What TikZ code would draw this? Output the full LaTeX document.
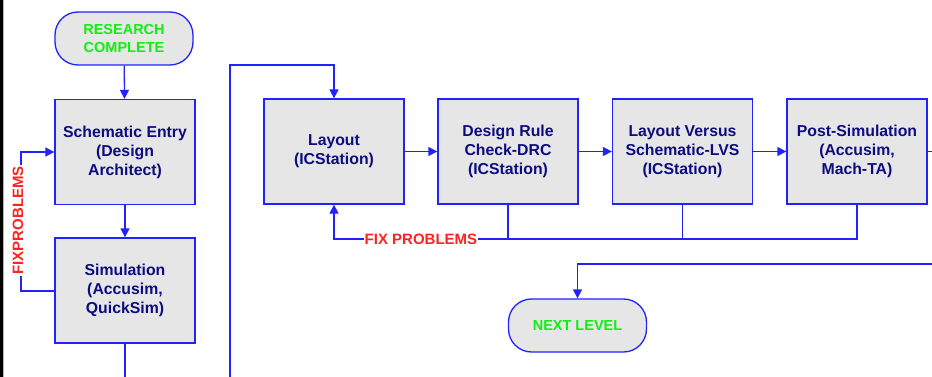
\documentclass[tikz,border=0pt]{standalone}
\usepackage{fontspec}
\setmainfont{Liberation Sans}
\usetikzlibrary{arrows.meta}

\definecolor{flowblue}{HTML}{2222FF}
\definecolor{flownavy}{HTML}{0C0C80}
\definecolor{flowgreen}{HTML}{11EE11}
\definecolor{flowred}{HTML}{FF2222}
\definecolor{flowfill}{HTML}{E6E6E6}

\tikzset{
  stagebox/.style={
    draw=flowblue, line width=1.3pt, fill=flowfill,
    minimum width=140pt, minimum height=105pt,
    align=center, text=flownavy,
    font=\bfseries\fontsize{15.8}{19}\selectfont
  },
  terminal/.style={
    draw=flowblue, line width=1.3pt, fill=flowfill,
    rounded corners=23pt,
    minimum width=138pt, minimum height=53pt,
    align=center, text=flowgreen,
    font=\bfseries\fontsize{14.5}{18}\selectfont
  },
  flow/.style={draw=flowblue, line width=1.3pt},
  flowarrow/.style={flow, -{Triangle[length=9pt,width=9pt]}},
  fixlabel/.style={fill=white, text=flowred, inner sep=1pt,
    font=\bfseries\fontsize{15}{18}\selectfont}
}

\begin{document}
\begin{tikzpicture}[x=1pt,y=-1pt]
\useasboundingbox (0,0) rectangle (932,377);
% page edge
\draw[line width=3pt] (1.5,0) -- (1.5,377);
\draw[line width=1pt, black!30] (3.8,0) -- (3.8,377);

% left column
\node[terminal] (research) at (124,38.5) {RESEARCH\\COMPLETE};
\node[stagebox] (schem) at (125,152) {Schematic Entry\\(Design\\Architect)};
\node[stagebox] (sim) at (125,290.5) {Simulation\\(Accusim,\\QuickSim)};

% top row
\node[stagebox] (layout) at (334,151.5) {Layout\\(ICStation)};
\node[stagebox] (drc) at (508,151.5) {Design Rule\\Check-DRC\\(ICStation)};
\node[stagebox] (lvs) at (682.5,151.5) {Layout Versus\\Schematic-LVS\\(ICStation)};
\node[stagebox] (post) at (857,151.5) {Post-Simulation\\(Accusim,\\Mach-TA)};

\node[terminal] (next) at (577.5,325.5) {NEXT LEVEL};

% free ends
\coordinate (simout) at (125,377);
\coordinate (layin) at (230,377);
\coordinate (postout) at (932,151.5);
\coordinate (nextin) at (932,264);

% main flow
\draw[flowarrow] (research) -- (schem);
\draw[flowarrow] (schem) -- (sim);
\draw[flow] (sim.south) -- (simout);
\draw[flowarrow] (layin) |- (334,65) -- (layout.north);
\draw[flowarrow] (layout) -- (drc);
\draw[flowarrow] (drc) -- (lvs);
\draw[flowarrow] (lvs) -- (post);
\draw[flow] (post.east) -- (postout);
\draw[flowarrow] (nextin) -| (next.north);

% fix problems loops
\draw[flowarrow] (sim.west |- 0,291) -- (21,291) -- (21,152) -- (schem.west);
\node[fixlabel, rotate=90] (fixleft) at (18,220.5) {FIXPROBLEMS};

\draw[flowarrow] (post.south) -- (857,239) -- (334,239) -- (layout.south);
\draw[flow] (drc.south) -- (508,239);
\draw[flow] (lvs.south) -- (682.5,239);
\node[fixlabel] (fixtop) at (421,239) {FIX PROBLEMS};
\end{tikzpicture}
\end{document}
